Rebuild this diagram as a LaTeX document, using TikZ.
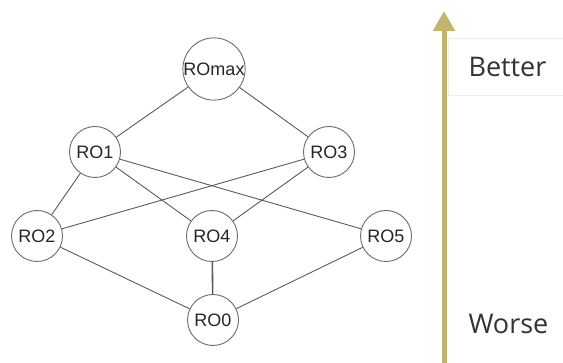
\documentclass[tikz,border=0pt]{standalone}
\usepackage{fontspec}
\setmainfont{Liberation Sans}
\newfontfamily\labelfont{Open Sans}
\usetikzlibrary{arrows.meta}
\definecolor{edgegray}{HTML}{5A5A5A}
\definecolor{ringgray}{HTML}{6A6A6A}
\definecolor{scalegold}{HTML}{C2B46C}
\definecolor{boxline}{HTML}{EDEDED}
\tikzset{
  ro/.style={circle, draw=ringgray, line width=0.9pt, minimum size=51pt, inner sep=0pt,
             font=\fontsize{18}{18}\selectfont, text=black!85},
  link/.style={draw=edgegray, line width=0.9pt},
  scaletext/.style={font=\labelfont\fontsize{27}{27}\selectfont, text=black!80, anchor=base west}
}
\begin{document}
\begin{tikzpicture}[x=1pt,y=-1pt]
  \useasboundingbox (0,0) rectangle (563,363);
  % lattice of orderings
  \node[ro] (max) at (214,69) {ROmax};
  \node[ro] (r1) at (95,152) {RO1};
  \node[ro] (r3) at (329,152) {RO3};
  \node[ro] (r2) at (37,236) {RO2};
  \node[ro] (r4) at (212,236) {RO4};
  \node[ro] (r5) at (386,236) {RO5};
  \node[ro] (r0) at (213,320) {RO0};
  \draw[link] (max) -- (r1);
  \draw[link] (max) -- (r3);
  \draw[link] (r1) -- (r2);
  \draw[link] (r1) -- (r4);
  \draw[link] (r1) -- (r5);
  \draw[link] (r3) -- (r2);
  \draw[link] (r3) -- (r4);
  \draw[link] (r2) -- (r0);
  \draw[link] (r5) -- (r0);
  \draw[draw=edgegray, line width=1.6pt] (r4) -- (r0);
  % quality scale
  \node[draw=boxline, line width=1.2pt, fill=white, minimum width=130pt, minimum height=57pt,
        anchor=north west] (box) at (448,38) {};
  \coordinate (low) at (444,364);
  \coordinate (high) at (444,11);
  \draw[draw=scalegold, line width=5pt, -{Triangle[length=20pt, width=21pt]}] (low) -- (high);
  \node[scaletext] (better) at (465,77) {Better};
  \node[scaletext] (worse) at (465,334) {Worse};
\end{tikzpicture}
\end{document}
